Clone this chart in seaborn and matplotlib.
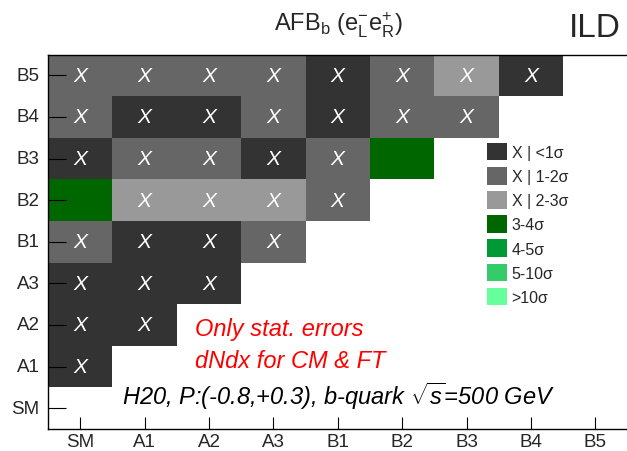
import numpy as np
import pandas as pd
import matplotlib
matplotlib.use("Agg")
import matplotlib.pyplot as plt
import seaborn as sns
from matplotlib.colors import ListedColormap
from matplotlib.patches import Patch

# models compared against each other
models = ["SM", "A1", "A2", "A3", "B1", "B2", "B3", "B4", "B5"]
rows_top_down = ["B5", "B4", "B3", "B2", "B1", "A3", "A2", "A1", "SM"]

# significance class per pair: 0 <1s, 1 1-2s, 2 2-3s, 3 3-4s, 4 4-5s, 5 5-10s, 6 >10s
nan = np.nan
row_B5 = [1, 1, 1, 1, 0, 1, 2, 0, nan]
row_B4 = [1, 0, 0, 1, 0, 1, 1, nan, nan]
row_B3 = [0, 1, 1, 0, 1, 3, nan, nan, nan]
row_B2 = [3, 2, 2, 2, 1, nan, nan, nan, nan]
row_B1 = [1, 0, 0, 1, nan, nan, nan, nan, nan]
row_A3 = [0, 0, 0, nan, nan, nan, nan, nan, nan]
row_A2 = [0, 0, nan, nan, nan, nan, nan, nan, nan]
row_A1 = [0, nan, nan, nan, nan, nan, nan, nan, nan]
row_SM = [nan] * 9

class_labels = ["X | <1σ", "X | 1-2σ", "X | 2-3σ", "3-4σ", "4-5σ", "5-10σ", ">10σ"]
class_colors = ["#333333", "#666666", "#999999", "#006600", "#009933", "#33cc66", "#66ff99"]

df = pd.DataFrame([row_B5, row_B4, row_B3, row_B2, row_B1, row_A3, row_A2, row_A1, row_SM],
                  index=rows_top_down, columns=models)
# X marks for "not distinguishable" classes
marks = df.map(lambda v: "X" if (v == v and v < 3) else "")

sns.set_style("white")
plt.rcParams['font.family'] = ['Liberation Sans', 'DejaVu Sans']
plt.rcParams['mathtext.fontset'] = 'custom'
plt.rcParams['mathtext.rm'] = 'Liberation Sans'
plt.rcParams['mathtext.it'] = 'Liberation Sans:italic'
plt.rcParams['mathtext.bf'] = 'Liberation Sans:bold'

fig = plt.figure(figsize=(6.27, 4.52), dpi=100)
ax = fig.add_axes([48 / 627, 22 / 452, 579.6 / 627, 374.5 / 452])

sns.heatmap(df, ax=ax, cmap=ListedColormap(class_colors), vmin=-0.5, vmax=6.5,
            cbar=False, annot=marks, fmt="", linewidths=0,
            annot_kws={"color": "white", "fontsize": 15, "fontstyle": "italic"})

for name, sp in ax.spines.items():
    sp.set_visible(name != "right")
    sp.set_color("black")
    sp.set_linewidth(1)

ax.set_axisbelow(False)  # ticks drawn over the cells
ax.tick_params(axis="x", bottom=True, direction="in", length=8.6, width=0.8,
               labelsize=13.5, pad=3, color="black")
ax.tick_params(axis="y", left=True, direction="in", length=12.7, width=0.8,
               labelsize=13.5, pad=6, color="black")
plt.setp(ax.get_yticklabels(), rotation=0)
plt.setp(ax.get_xticklabels(), rotation=0)
ax.set_xlabel("")
ax.set_ylabel("")

# legend
handles = [Patch(facecolor=c, edgecolor="none", label=l) for c, l in zip(class_colors, class_labels)]
fig.legend(handles=handles, loc="upper left", bbox_to_anchor=(487.3 / 627, 1 - 144 / 452),
           bbox_transform=fig.transFigure, frameon=False, fontsize=11.5,
           handlelength=1.22, handleheight=1.3, handletextpad=0.3,
           labelspacing=0.42, borderpad=0, borderaxespad=0)

# titles and notes
fig.text(338 / 627, 1 - 31.7 / 452, r"AFB$_{\mathrm{b}}$ (e$^{-}_{\mathrm{L}}$e$^{+}_{\mathrm{R}}$)",
         ha="center", va="baseline", fontsize=17)
fig.text(621 / 627, 1 - 37.3 / 452, "ILD", ha="right", va="baseline", fontsize=24)
fig.text(195 / 627, 1 - 336 / 452, "Only stat. errors", color="red", style="italic",
         ha="left", va="baseline", fontsize=17)
fig.text(195 / 627, 1 - 368 / 452, "dNdx for CM & FT", color="red", style="italic",
         ha="left", va="baseline", fontsize=17)
fig.text(121.7 / 627, 1 - 405 / 452, r"H20, P:(-0.8,+0.3), b-quark $\sqrt{s}$=500 GeV",
         color="black", style="italic", ha="left", va="baseline", fontsize=17)

fig.savefig("out.png", dpi=100, facecolor="white")
